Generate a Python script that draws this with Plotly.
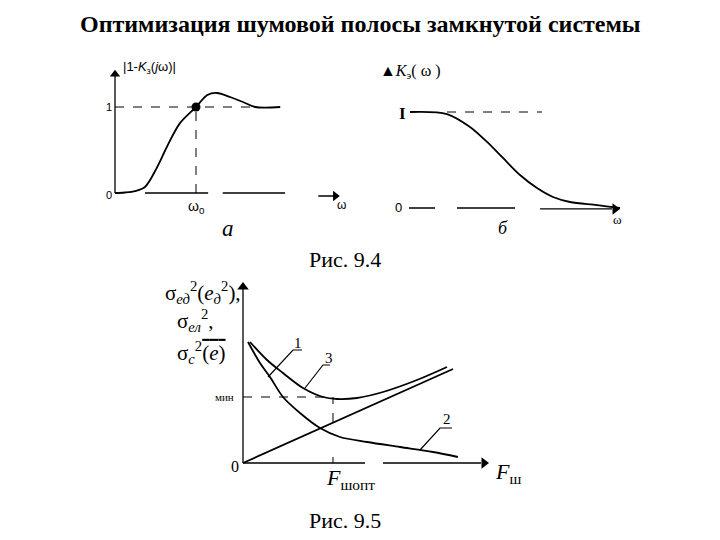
import plotly.graph_objects as go

W, H = 720, 540
SERIF = "Liberation Serif, Times New Roman, serif"
SANS = "Liberation Sans, Arial, sans-serif"

# ---------------- data: Fig 9.4 a  |1-Kз(jω)| ----------------
a_omega = [0.0, 0.12, 0.25, 0.37, 0.52, 0.64, 0.80, 1.00, 1.14, 1.26, 1.42, 1.58, 1.73, 2.04]
a_mag   = [0.0, 0.006, 0.023, 0.07, 0.30, 0.535, 0.81, 1.00, 1.14, 1.163, 1.116, 1.058, 1.00, 1.00]
a_omega0 = 1.0
a_level = 1.0

# ---------------- data: Fig 9.4 б  Kэ(ω) ----------------
b_omega = [0.0, 0.37, 0.60, 0.77, 0.93, 1.10, 1.27, 1.43, 1.60, 1.87, 2.10]
b_gain  = [1.0, 0.979, 0.844, 0.688, 0.521, 0.344, 0.208, 0.115, 0.0625, 0.031, 0.0]
b_level = 1.0

# ---------------- data: Fig 9.5 ----------------
line1_F = [0.0, 2.10]
line1_s = [0.0, 0.94]
c2_F = [0.05, 0.17, 0.27, 0.40, 0.57, 0.77, 0.97, 1.24, 1.57, 1.90, 2.15]
c2_s = [1.21, 1.00, 0.86, 0.66, 0.50, 0.35, 0.26, 0.21, 0.16, 0.11, 0.06]
c3_F = [0.07, 0.24, 0.40, 0.60, 0.80, 0.94, 1.14, 1.40, 1.74, 2.04]
c3_s = [1.21, 1.03, 0.90, 0.75, 0.66, 0.64, 0.65, 0.71, 0.83, 0.96]
F_opt = 0.9
s_min = 0.66
s_opt_line = 0.41

# panel geometry: (pixel of data origin x, px per unit x, pixel origin y, px per unit y, xrange, yrange)
panels = {
    "1": (115, 81, 193, 86, [-0.6, 3.0], [-0.6, 1.6]),
    "2": (410, 100, 208, 96, [-0.5, 2.4], [-0.4, 1.6]),
    "3": (243, 100, 463, 100, [-0.9, 2.9], [-0.35, 1.95]),
}

fig = go.Figure()
layout_axes = {}
for k, (px0, sx, py0, sy, xr, yr) in panels.items():
    xd = [(px0 + sx * xr[0]) / W, (px0 + sx * xr[1]) / W]
    yd = [1 - (py0 - sy * yr[0]) / H, 1 - (py0 - sy * yr[1]) / H]
    xn = "xaxis" if k == "1" else f"xaxis{k}"
    yn = "yaxis" if k == "1" else f"yaxis{k}"
    layout_axes[xn] = dict(domain=xd, range=xr, visible=False, anchor="y" if k == "1" else f"y{k}")
    layout_axes[yn] = dict(domain=yd, range=yr, visible=False, anchor="x" if k == "1" else f"x{k}")

def ln(x, y, ax, width=1.6, dash="solid", shape="linear", color="black"):
    xa = "x" if ax == "1" else f"x{ax}"
    ya = "y" if ax == "1" else f"y{ax}"
    fig.add_trace(go.Scatter(x=x, y=y, xaxis=xa, yaxis=ya, mode="lines",
                             line=dict(color=color, width=width, dash=dash, shape=shape,
                                       smoothing=0.9 if shape == "spline" else None),
                             showlegend=False, hoverinfo="skip"))

def mk(x, y, ax, symbol, size):
    xa = "x" if ax == "1" else f"x{ax}"
    ya = "y" if ax == "1" else f"y{ax}"
    fig.add_trace(go.Scatter(x=x, y=y, xaxis=xa, yaxis=ya, mode="markers",
                             marker=dict(symbol=symbol, size=size, color="black", line=dict(width=0)),
                             showlegend=False, hoverinfo="skip"))

annots = []
def txt(x, y, ax, s, size, family=SERIF, xanchor="center", yanchor="middle"):
    if ax == "paper":
        xr, yr = "paper", "paper"
    else:
        xr = "x" if ax == "1" else f"x{ax}"
        yr = "y" if ax == "1" else f"y{ax}"
    annots.append(dict(x=x, y=y, xref=xr, yref=yr, text=s, showarrow=False,
                       font=dict(size=size, family=family, color="black"),
                       xanchor=xanchor, yanchor=yanchor))

# ---------- panel a ----------
ln([0, 0], [0, 1.36], "1", width=1.3)
mk([0], [1.38], "1", "triangle-up", 9)
ln([0.37, 1.15], [0, 0], "1", width=1.3)
ln([1.33, 2.10], [0, 0], "1", width=1.3)
ln([2.51, 2.70], [-0.035, -0.035], "1", width=1.3)
mk([2.72], [-0.035], "1", "triangle-right", 9)
ln([0, a_omega[-2]], [a_level, a_level], "1", width=1, dash="dash")
ln([a_omega0, a_omega0], [0, a_level], "1", width=1, dash="dash")
ln(a_omega, a_mag, "1", width=1.8, shape="spline")
mk([a_omega0], [a_level], "1", "circle", 9)
txt(0.07, 1.465, "1", "|1-<i>K</i><sub>з</sub>(<i>j</i>ω)|", 13, SANS, xanchor="left")
txt(-0.07, 1.0, "1", "1", 11, SANS)
txt(-0.07, -0.02, "1", "0", 11, SANS)
txt(1.0, -0.16, "1", "ω<sub>0</sub>", 14, SANS)
txt(2.8, -0.14, "1", "ω", 12, SANS)
txt(1.395, -0.41, "1", "<i>a</i>", 23, SERIF)

# ---------- panel б ----------
ln([-0.01, 0.25], [0, 0], "2", width=1.3)
ln([0.47, 1.05], [0, 0], "2", width=1.3)
ln([1.30, 2.02], [-0.01, -0.01], "2", width=1.3)
mk([2.05], [-0.01], "2", "triangle-right", 10)
ln([0.37, 1.32], [b_level, b_level], "2", width=1, dash="dash")
ln(b_omega, b_gain, "2", width=1.8, shape="spline")
txt(-0.32, 1.417, "2", "▲<i>K</i><sub>э</sub>( ω )", 16, SERIF, xanchor="left")
txt(-0.08, 0.98, "2", "<b>I</b>", 17, SERIF)
txt(-0.12, 0.0, "2", "0", 13, SANS)
txt(2.07, -0.115, "2", "ω", 13, SERIF)
txt(0.93, -0.21, "2", "<i>б</i>", 18, SERIF)

# ---------- Fig 9.5 ----------
ln([0, 0], [0, 1.74], "3", width=1.3)
mk([0], [1.76], "3", "triangle-up", 10)
ln([0, 1.22], [0, 0], "3", width=1.3)
ln([1.40, 2.38], [0, 0], "3", width=1.3)
mk([2.41], [0], "3", "triangle-right", 10)
ln([F_opt, F_opt], [0, 0.06], "3", width=1)
ln([0, F_opt], [s_min, s_min], "3", width=1, dash="dash")
ln([F_opt, F_opt], [s_opt_line, s_min], "3", width=1, dash="dash")
ln(line1_F, line1_s, "3", width=1.8)
ln(c2_F, c2_s, "3", width=1.8, shape="spline")
ln(c3_F, c3_s, "3", width=1.8, shape="spline")
# leaders
ln([0.25, 0.50, 0.59], [0.86, 1.13, 1.13], "3", width=1.2)
ln([0.62, 0.80, 0.87], [0.75, 0.98, 0.98], "3", width=1.2)
ln([1.77, 1.97, 2.09], [0.13, 0.35, 0.35], "3", width=1.2)
txt(0.545, 1.20, "3", "1", 15)
txt(0.855, 1.05, "3", "3", 15)
txt(2.04, 0.44, "3", "2", 15)
txt(-0.07, 0.655, "3", "мин", 11, SERIF, xanchor="right")
txt(-0.08, -0.04, "3", "0", 16)
txt(1.07, -0.16, "3", "<i>F</i><sub>шопт</sub>", 22)
txt(2.65, -0.10, "3", "<i>F</i><sub>ш</sub>", 22)
txt(-0.80, 1.70, "3", "σ<sub><i>ед</i></sub><sup>2</sup>(<i>e</i><sub><i>д</i></sub><sup>2</sup>),", 21, xanchor="left")
txt(-0.68, 1.42, "3", "σ<sub><i>ел</i></sub><sup>2</sup>,", 21, xanchor="left")
txt(-0.68, 1.10, "3", "σ<sub><i>с</i></sub><sup>2</sup><span style='text-decoration:overline'>(<i>e</i>)</span>", 21, xanchor="left")

# ---------- titles ----------
txt(0.5, 1 - 24 / H, "paper", "<b>Оптимизация шумовой полосы замкнутой системы</b>", 24)
txt(345 / W, 1 - 260 / H, "paper", "Рис. 9.4", 22)
txt(345 / W, 1 - 520 / H, "paper", "Рис. 9.5", 22)

fig.update_layout(width=W, height=H, autosize=False,
                  margin=dict(l=0, r=0, t=0, b=0),
                  paper_bgcolor="white", plot_bgcolor="white",
                  annotations=annots, **layout_axes)
fig.write_html("out.html")
